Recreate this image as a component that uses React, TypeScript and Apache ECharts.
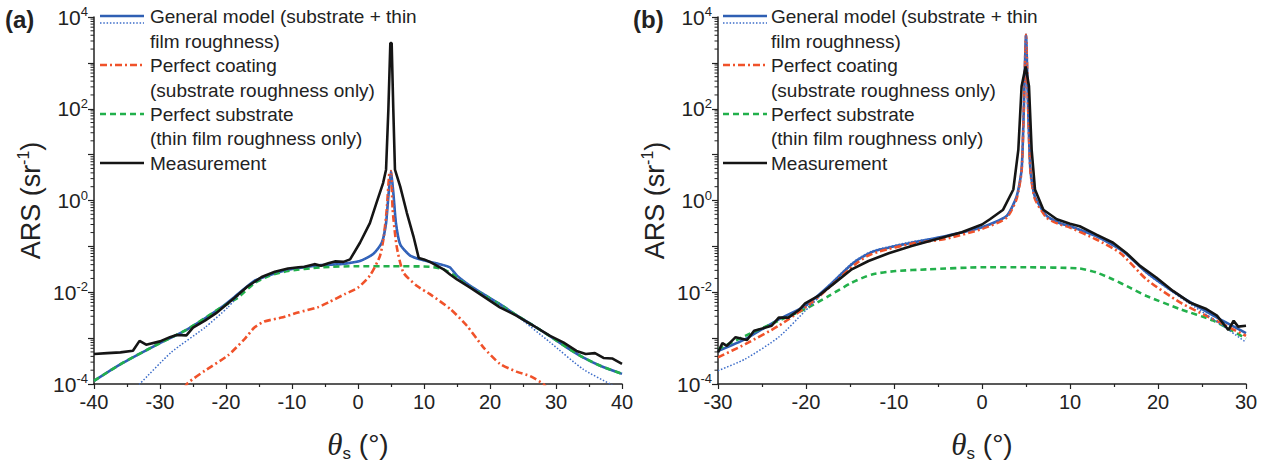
import React, { useEffect, useRef } from 'react';
import * as echarts from 'echarts';

const FONT = '"Liberation Sans", Arial, Helvetica, sans-serif';
const SERIF = '"Liberation Serif", "Times New Roman", serif';
const AXIS = '#222222';
const C_BLUE = '#2f5fb3';
const C_BLUE_DOT = '#3b6cc9';
const C_RED = '#f0522a';
const C_GREEN = '#22b04b';
const C_BLACK = '#151515';

// ---------- Panel (a) ----------
const aMeasX = [-40, -38, -36, -34.1, -33.1, -32.1, -30, -28.5, -27.5, -26, -25, -23.2, -21.5, -20.2, -18.7, -16.7, -14.6, -12.6, -10.6, -9, -8.1, -6.6, -5.6, -4.5, -3.5, -2.2, -1.2, 0.3, 1.8, 2.8, 3.8, 4.25, 4.6, 4.9, 5.1, 5.35, 5.6, 6.4, 7.4, 8.4, 9.2, 10, 10.9, 12.9, 14, 15, 17, 19, 21.5, 24, 26.6, 29.1, 31.1, 33.1, 34.5, 35.9, 37.2, 38.5, 40];
const aMeasY = [4.5e-4, 4.7e-4, 4.9e-4, 5.3e-4, 8.7e-4, 7.2e-4, 8.5e-4, 1.05e-3, 1.17e-3, 1.15e-3, 1.7e-3, 2.4e-3, 3.5e-3, 5.0e-3, 7.6e-3, 1.35e-2, 2.15e-2, 2.8e-2, 3.3e-2, 3.5e-2, 3.6e-2, 4.1e-2, 3.8e-2, 4.3e-2, 4.7e-2, 4.6e-2, 5.2e-2, 0.12, 0.32, 0.89, 2.4, 4.7, 95, 2700, 2700, 95, 4.7, 2.0, 0.54, 0.166, 0.056, 0.052, 0.046, 0.032, 0.024, 0.019, 0.0126, 0.0081, 0.0047, 0.0031, 0.00186, 0.00112, 8.1e-4, 5.25e-4, 4.5e-4, 4.7e-4, 3.7e-4, 3.6e-4, 2.75e-4];

const aGenX = [-40, -35.9, -30.8, -25.8, -20.7, -18.2, -15.7, -13.1, -10.6, -5.6, -2.7, 0.3, 2.3, 3.6, 4.25, 4.6, 5, 5.4, 5.75, 6.4, 7.9, 9.9, 12.4, 13.9, 15, 17, 19, 21.5, 24, 26.6, 29.1, 31.6, 34.1, 36.7, 40];
const aGenY = [1.17e-4, 2.75e-4, 6.8e-4, 1.58e-3, 4.7e-3, 9.1e-3, 1.78e-2, 2.45e-2, 3.1e-2, 3.9e-2, 4.1e-2, 4.8e-2, 6.8e-2, 0.12, 0.32, 1.23, 4.4, 1.23, 0.32, 0.11, 0.063, 0.05, 0.041, 0.035, 0.023, 0.0138, 0.0091, 0.0055, 0.00316, 0.00186, 0.0011, 6.3e-4, 3.8e-4, 2.5e-4, 1.66e-4];

const aDotX = [-34, -33.1, -28.3, -23.2, -19.7, -17.2, -14.6, -13.1, -10.6, -5.6, -2.7, 0.3, 2.3, 3.6, 4.25, 4.6, 5, 5.4, 5.75, 6.4, 7.9, 9.9, 12.4, 13.9, 15, 17, 19, 21.5, 24, 29.1, 34.1, 38.2, 39];
const aDotY = [8e-5, 1e-4, 4.9e-4, 1.7e-3, 4.7e-3, 1.17e-2, 2.0e-2, 2.45e-2, 3.1e-2, 3.9e-2, 4.1e-2, 4.8e-2, 6.8e-2, 0.12, 0.32, 1.23, 4.4, 1.23, 0.32, 0.11, 0.063, 0.05, 0.041, 0.035, 0.023, 0.0138, 0.0091, 0.0055, 0.0031, 8.1e-4, 2.1e-4, 1e-4, 8.5e-5];

const aSubX = [-40, -35.9, -30.8, -25.8, -20.7, -18.2, -15.7, -13.4, -10.6, -5.6, 0, 5, 10.9, 12.9, 15, 17, 19, 21.5, 24, 26.6, 29.1, 31.6, 34.1, 36.7, 40];
const aSubY = [1.17e-4, 2.75e-4, 6.8e-4, 1.58e-3, 4.7e-3, 7.6e-3, 1.58e-2, 2.3e-2, 2.9e-2, 3.5e-2, 3.7e-2, 3.7e-2, 3.6e-2, 3.2e-2, 2.1e-2, 1.3e-2, 8.9e-3, 5.5e-3, 3.16e-3, 1.86e-3, 1.1e-3, 6.3e-4, 3.8e-4, 2.5e-4, 1.66e-4];

const aCoatX = [-26.3, -25.8, -23.2, -19.7, -17.2, -15.7, -14.2, -11.6, -9.1, -6.1, -4.5, -2, 0, 1.8, 3.3, 3.84, 4.34, 4.75, 5, 5.25, 5.86, 6.87, 8.9, 10.9, 14, 16.5, 19, 21.5, 24, 26.1, 28.1, 28.6];
const aCoatY = [8e-5, 1.05e-4, 1.95e-4, 4.2e-4, 9.5e-4, 1.7e-3, 2.3e-3, 2.8e-3, 3.6e-3, 4.7e-3, 6.0e-3, 9.1e-3, 1.26e-2, 2.3e-2, 6e-2, 0.14, 0.6, 4.0, 4.4, 0.63, 0.1, 2.7e-2, 1.38e-2, 9.1e-3, 4.3e-3, 1.86e-3, 6.3e-4, 2.75e-4, 1.86e-4, 1.48e-4, 1e-4, 8e-5];

// ---------- Panel (b) ----------
const bMeasX = [-30, -29.5, -29, -28, -26.7, -25.9, -24.6, -23.9, -23.1, -22, -20.8, -20.1, -18.6, -16.7, -14.8, -12.9, -10.6, -8, -4.9, -2.3, 0, 0.9, 2.4, 3.56, 4.13, 4.5, 4.96, 5.34, 5.64, 6.02, 6.97, 8.5, 10, 11.1, 13, 14.9, 16.4, 18, 19.8, 21.7, 23.6, 25.5, 26.7, 28, 28.6, 29.1, 30];
const bMeasY = [4.9e-4, 7.8e-4, 6.8e-4, 1.05e-3, 9.1e-4, 1.45e-3, 1.7e-3, 1.86e-3, 2.8e-3, 2.8e-3, 4.1e-3, 5.75e-3, 8.3e-3, 1.62e-2, 3.16e-2, 4.8e-2, 7.1e-2, 0.102, 0.148, 0.204, 0.3, 0.39, 0.63, 1.74, 12.9, 309, 830, 309, 12.9, 1.74, 0.63, 0.39, 0.31, 0.275, 0.18, 0.12, 0.072, 0.037, 0.021, 0.0107, 0.006, 0.0043, 0.0031, 0.0015, 0.0024, 0.00178, 0.00186];

const bGenX = [-30, -26.9, -23.1, -20.1, -17.4, -14.8, -13, -11.7, -8, -4.2, 0, 2.8, 3.94, 4.5, 4.75, 5, 5.25, 5.5, 6.0, 7.35, 8.86, 10, 13, 16, 18.7, 22.5, 26.3, 30];
const bGenY = [5.25e-4, 9.5e-4, 2.57e-3, 5.0e-3, 1.38e-2, 4.1e-2, 6.8e-2, 8.4e-2, 0.12, 0.166, 0.26, 0.46, 1.23, 4.7, 95, 4070, 95, 4.7, 1.23, 0.46, 0.32, 0.275, 0.166, 0.079, 0.027, 0.0083, 0.0031, 0.00129];

const bDotX = [-30, -26.9, -23.1, -20.1, -18.6, -17.4, -14.8, -12.5, -8, -4.2, 0, 2.8, 3.94, 4.5, 4.75, 5, 5.25, 5.5, 6.0, 7.35, 8.86, 10, 13, 16, 18.7, 22.5, 26.3, 30];
const bDotY = [1.95e-4, 3.5e-4, 1.05e-3, 3.9e-3, 7.6e-3, 1.38e-2, 4.3e-2, 7.9e-2, 0.126, 0.166, 0.26, 0.46, 1.23, 4.7, 95, 4070, 95, 4.7, 1.23, 0.46, 0.32, 0.275, 0.166, 0.079, 0.026, 0.0078, 0.00257, 8.1e-4];

const bCoatX = [-30, -26.9, -23.1, -19.3, -17, -14.4, -13, -11.7, -8, -4.2, 0, 2.8, 3.94, 4.5, 4.75, 5, 5.25, 5.5, 6.0, 7.35, 8.86, 10, 13, 15.7, 18.7, 22.5, 26.3, 30];
const bCoatY = [3.8e-4, 7.4e-4, 1.86e-3, 6.0e-3, 1.48e-2, 4.1e-2, 6.2e-2, 7.7e-2, 0.115, 0.145, 0.24, 0.42, 1.1, 4.4, 95, 4070, 95, 4.4, 1.1, 0.42, 0.3, 0.257, 0.141, 0.072, 0.019, 0.006, 0.00257, 0.00112];

const bSubX = [-30, -26.9, -23.1, -20.1, -17.4, -14.8, -12.5, -9.8, -6.1, 0, 5, 11.1, 13, 14.9, 16.8, 18.7, 22.5, 26.3, 30];
const bSubY = [5.75e-4, 1.12e-3, 2.4e-3, 4.3e-3, 8.3e-3, 1.62e-2, 2.45e-2, 2.9e-2, 3.16e-2, 3.5e-2, 3.5e-2, 3.3e-2, 2.7e-2, 1.9e-2, 1.26e-2, 8.3e-3, 4.3e-3, 2.4e-3, 9.8e-4];

// ---------- Axes / labels ----------
const X_RANGE_A = [-40, 40];
const X_RANGE_B = [-30, 30];
const Y_RANGE = [1e-4, 1e4];
const LEGEND_LINES = [
  'General model (substrate + thin',
  'film roughness)',
  'Perfect coating',
  '(substrate roughness only)',
  'Perfect substrate',
  '(thin film roughness only)',
  'Measurement',
];
const PANEL_LABELS = ['(a)', '(b)'];
const MINOR_MULTS = [2, 3, 4, 5, 6, 7, 8, 9];
const DECADES = [-4, -3, -2, -1, 0, 1, 2, 3];

const zip = (xs: number[], ys: number[]) => xs.map((x, i) => [x, ys[i]]);

function legendGraphic(lx: number, tx: number): any[] {
  const rowsY = [16, 41.5, 65, 90, 114, 138.5, 163];
  const lineLen = 44;
  const els: any[] = [
    { type: 'line', shape: { x1: lx, y1: 16, x2: lx + lineLen, y2: 16 }, style: { stroke: C_BLUE, lineWidth: 2.5 } },
    { type: 'line', shape: { x1: lx, y1: 23, x2: lx + lineLen, y2: 23 }, style: { stroke: C_BLUE_DOT, lineWidth: 1.5, lineDash: [1.5, 1.8] } },
    { type: 'line', shape: { x1: lx, y1: 65, x2: lx + lineLen, y2: 65 }, style: { stroke: C_RED, lineWidth: 2.5, lineDash: [7, 3, 2, 3] } },
    { type: 'line', shape: { x1: lx, y1: 114, x2: lx + lineLen, y2: 114 }, style: { stroke: C_GREEN, lineWidth: 2.5, lineDash: [6, 4] } },
    { type: 'line', shape: { x1: lx, y1: 163, x2: lx + lineLen, y2: 163 }, style: { stroke: C_BLACK, lineWidth: 2.5 } },
  ];
  LEGEND_LINES.forEach((t, i) => {
    els.push({
      type: 'text',
      x: tx,
      y: rowsY[i],
      style: { text: t, fontSize: 19, fontFamily: FONT, fill: '#222', verticalAlign: 'middle', align: 'left' },
    });
  });
  return els;
}

function minorTickSeries(idx: number, xMin: number): any {
  const data: number[][] = [];
  DECADES.forEach((d) => MINOR_MULTS.forEach((m) => data.push([xMin, m * Math.pow(10, d)])));
  return {
    type: 'custom',
    xAxisIndex: idx,
    yAxisIndex: idx,
    silent: true,
    clip: false,
    z: 10,
    data,
    renderItem: (params: any, api: any) => {
      const p = api.coord([api.value(0), api.value(1)]);
      return {
        type: 'line',
        shape: { x1: p[0] - 3.5, y1: p[1], x2: p[0], y2: p[1] },
        style: { stroke: AXIS, lineWidth: 1 },
      };
    },
  };
}

function xAxisOpt(idx: number, range: number[]): any {
  return {
    type: 'value',
    gridIndex: idx,
    min: range[0],
    max: range[1],
    interval: 10,
    name: '{t|θ}{sub|s}{n| (°)}',
    nameLocation: 'middle',
    nameGap: 42,
    nameTextStyle: {
      rich: {
        t: { fontFamily: SERIF, fontStyle: 'italic', fontSize: 31, lineHeight: 36, color: '#222' },
        sub: { fontFamily: FONT, fontSize: 17, lineHeight: 16, verticalAlign: 'bottom', color: '#222' },
        n: { fontFamily: FONT, fontSize: 28, lineHeight: 36, color: '#222' },
      },
    },
    axisLine: { show: true, onZero: false, lineStyle: { color: AXIS, width: 1.5 } },
    axisTick: { show: true, inside: false, length: 5, lineStyle: { color: AXIS, width: 1.2 } },
    minorTick: { show: true, splitNumber: 2, length: 3, lineStyle: { color: AXIS, width: 1.2 } },
    splitLine: { show: false },
    axisLabel: { margin: 8, fontSize: 20, fontFamily: FONT, color: '#222' },
  };
}

function yAxisOpt(idx: number): any {
  return {
    type: 'log',
    logBase: 10,
    gridIndex: idx,
    min: Y_RANGE[0],
    max: Y_RANGE[1],
    name: '{n|ARS (sr}{s|-1}{n|)}',
    nameLocation: 'middle',
    nameGap: 48,
    nameTextStyle: {
      rich: {
        n: { fontFamily: FONT, fontSize: 27, lineHeight: 31, color: '#222' },
        s: { fontFamily: FONT, fontSize: 16, lineHeight: 16, verticalAlign: 'top', color: '#222' },
      },
    },
    axisLine: { show: true, onZero: false, lineStyle: { color: AXIS, width: 1.5 } },
    axisTick: { show: true, inside: false, length: 6, lineStyle: { color: AXIS, width: 1.2 } },
    minorTick: { show: false },
    splitLine: { show: false },
    axisLabel: {
      margin: 6,
      formatter: (v: number) => {
        const e = Math.round(Math.log10(v));
        return e % 2 === 0 ? `{b|10}{s|${e}}` : '';
      },
      rich: {
        b: { fontFamily: FONT, fontSize: 21, lineHeight: 24, color: '#222' },
        s: { fontFamily: FONT, fontSize: 13, lineHeight: 13, verticalAlign: 'top', color: '#222' },
      },
    },
  };
}

function seriesSet(idx: number, gen: number[][], dot: number[][], sub: number[][], coat: number[][], meas: number[][]): any[] {
  const base = { type: 'line', xAxisIndex: idx, yAxisIndex: idx, showSymbol: false, symbol: 'none', silent: true };
  return [
    { ...base, name: 'General model', data: gen, smooth: 0.2, z: 2, lineStyle: { color: C_BLUE, width: 2.6 } },
    { ...base, name: 'Perfect substrate', data: sub, smooth: 0.2, z: 3, lineStyle: { color: C_GREEN, width: 2.6, type: [6, 4] } },
    { ...base, name: 'Perfect coating', data: coat, smooth: 0.2, z: 4, lineStyle: { color: C_RED, width: 2.6, type: [7, 3, 2, 3] } },
    { ...base, name: 'General model (dotted)', data: dot, smooth: 0.2, z: 5, lineStyle: { color: C_BLUE_DOT, width: 1.5, type: [1.5, 1.8] } },
    { ...base, name: 'Measurement', data: meas, smooth: false, z: 6, lineStyle: { color: C_BLACK, width: 2.6 } },
  ];
}

export default function App() {
  const ref = useRef<HTMLDivElement>(null);
  useEffect(() => {
    if (!ref.current) return;
    const chart = echarts.init(ref.current, undefined, { renderer: 'svg' });
    const option: any = {
      animation: false,
      backgroundColor: '#ffffff',
      textStyle: { fontFamily: FONT },
      grid: [
        { left: 94, right: 1279 - 622, top: 17, bottom: 467 - 385 },
        { left: 718, right: 1279 - 1246, top: 17, bottom: 467 - 385 },
      ],
      xAxis: [xAxisOpt(0, X_RANGE_A), xAxisOpt(1, X_RANGE_B)],
      yAxis: [yAxisOpt(0), yAxisOpt(1)],
      series: [
        ...seriesSet(0, zip(aGenX, aGenY), zip(aDotX, aDotY), zip(aSubX, aSubY), zip(aCoatX, aCoatY), zip(aMeasX, aMeasY)),
        ...seriesSet(1, zip(bGenX, bGenY), zip(bDotX, bDotY), zip(bSubX, bSubY), zip(bCoatX, bCoatY), zip(bMeasX, bMeasY)),
        minorTickSeries(0, X_RANGE_A[0]),
        minorTickSeries(1, X_RANGE_B[0]),
      ],
      graphic: [
        ...legendGraphic(100, 150),
        ...legendGraphic(723, 771),
        { type: 'text', x: 5, y: 19, style: { text: PANEL_LABELS[0], fontSize: 24, fontWeight: 'bold', fontFamily: FONT, fill: '#222', verticalAlign: 'middle' } },
        { type: 'text', x: 633, y: 19, style: { text: PANEL_LABELS[1], fontSize: 24, fontWeight: 'bold', fontFamily: FONT, fill: '#222', verticalAlign: 'middle' } },
      ],
    };
    chart.setOption(option);
    return () => chart.dispose();
  }, []);
  return <div ref={ref} style={{ position: 'fixed', left: 0, top: 0, width: 1279, height: 467, background: '#fff' }} />;
}
